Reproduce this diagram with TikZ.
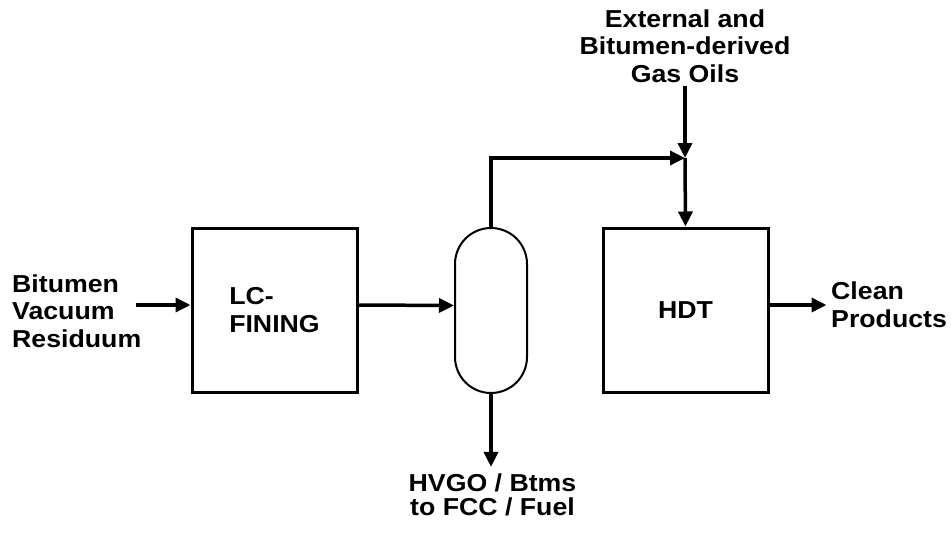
\documentclass[tikz,border=0pt]{standalone}
\usepackage{fontspec}
\setmainfont[FakeStretch=1.09]{Liberation Sans}
\usetikzlibrary{arrows.meta,positioning}

\begin{document}
\begin{tikzpicture}[x=1pt,y=-1pt,
  font=\fontsize{24.5}{27.5}\selectfont\bfseries,
  unit/.style={draw,line width=3pt,minimum width=165pt,minimum height=164pt,inner sep=0pt,align=left},
  flow/.style={line width=3.5pt,-{Triangle[length=15pt,width=14pt]}},
  lbl/.style={inner sep=0pt}]
  \useasboundingbox (0,0) rectangle (951,533);
  % units
  \node[unit] (lcf) at (274.5,310) {LC-\\FINING};
  \node[draw,line width=2pt,minimum width=72pt,minimum height=165pt,rounded corners=36pt] (sep) at (491,310.5) {};
  \node[unit] (hdt) at (685.5,310) {HDT};
  % stream labels
  \node[lbl,align=left,anchor=west] (feed) at (12,311) {Bitumen\\Vacuum\\Residuum};
  \node[lbl,align=center] (gas) at (685,46) {External and\\Bitumen-derived\\Gas Oils};
  \node[lbl,align=left,anchor=west] (prod) at (831,304.5) {Clean\\Products};
  \node[lbl,align=center,font=\fontsize{24.5}{23.5}\selectfont\bfseries] (btm) at (492.5,495) {HVGO / Btms\\to FCC / Fuel};
  \coordinate (jn) at (685,158);
  % streams
  \draw[flow] ([xshift=-55pt,yshift=5pt]lcf.west) -- ([yshift=5pt]lcf.west);
  \draw[flow] ([yshift=5pt]lcf.east) -- ([yshift=5pt]sep.west);
  \draw[flow] (sep.north) |- (jn);
  \draw[flow] ([yshift=-3pt]gas.south) -- (jn);
  \draw[flow] (jn) -- (hdt.north);
  \draw[flow] ([yshift=5pt]hdt.east) -- ++(57,0);
  \draw[flow,shorten >=7pt] (sep.south) -- (sep.south |- btm.north);
\end{tikzpicture}
\end{document}
